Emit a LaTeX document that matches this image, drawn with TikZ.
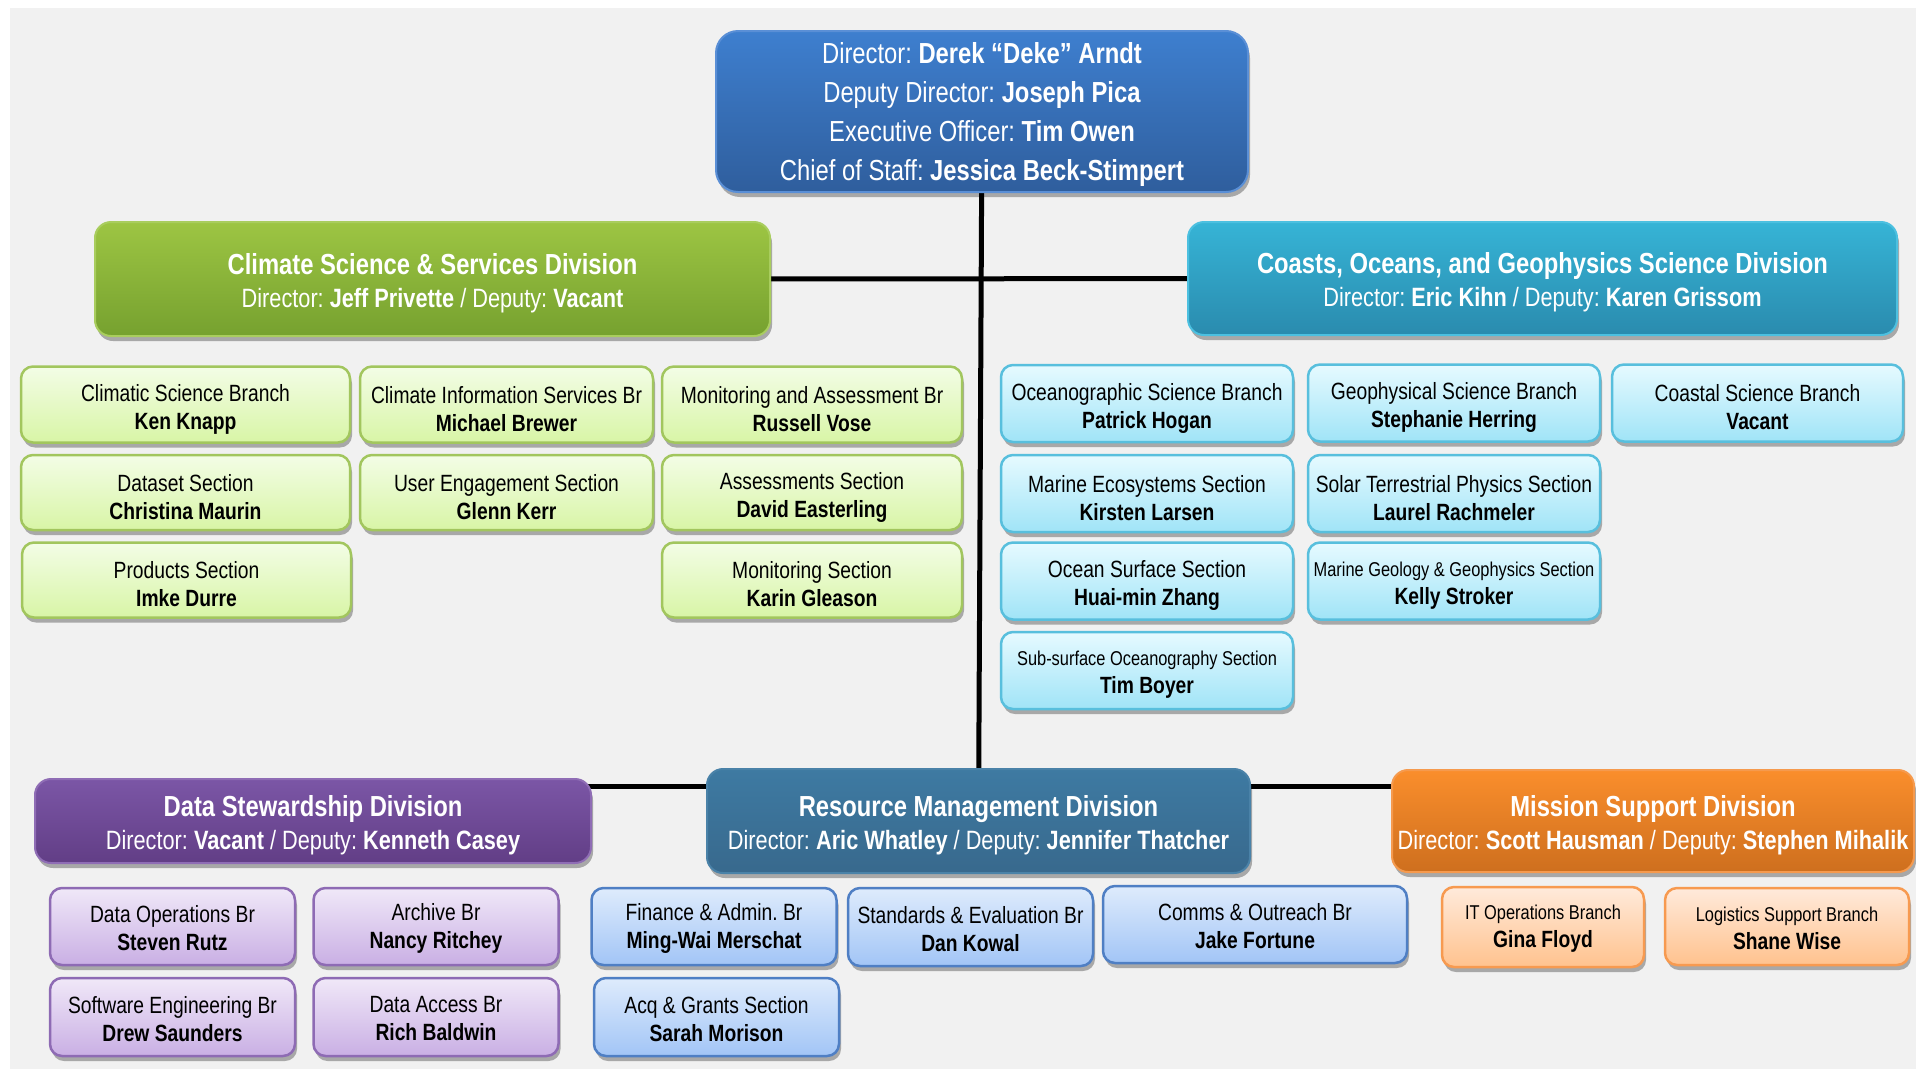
\documentclass[tikz,border=0pt]{standalone}
\usepackage{fontspec}
\setmainfont{Liberation Sans}[FakeStretch=0.82]
\usetikzlibrary{shadows}
\pgfdeclarelayer{back}
\pgfdeclarelayer{lines}
\pgfsetlayers{back,lines,main}
\definecolor{bgc}{HTML}{F1F1F1}
\definecolor{topT}{HTML}{3E7FCF}\definecolor{topB}{HTML}{2F5E9D}\definecolor{topD}{HTML}{5A8FD6}
\definecolor{grT}{HTML}{9DC543}\definecolor{grB}{HTML}{76A12F}\definecolor{grD}{HTML}{A9CD5E}
\definecolor{teT}{HTML}{36B4D6}\definecolor{teB}{HTML}{2A8BAE}\definecolor{teD}{HTML}{4CC0E0}
\definecolor{puT}{HTML}{7B56A6}\definecolor{puB}{HTML}{623E86}\definecolor{puD}{HTML}{8F6DB5}
\definecolor{rmT}{HTML}{3E7AA2}\definecolor{rmB}{HTML}{38698D}\definecolor{rmD}{HTML}{4A82A8}
\definecolor{orT}{HTML}{FA8E2C}\definecolor{orB}{HTML}{CE6F1E}\definecolor{orD}{HTML}{F59A4E}
\definecolor{lgT}{HTML}{F3FDE6}\definecolor{lgB}{HTML}{D8F5A6}\definecolor{lgD}{HTML}{A2C65E}
\definecolor{lcT}{HTML}{E6FAFF}\definecolor{lcB}{HTML}{A0E4F7}\definecolor{lcD}{HTML}{58BFDD}
\definecolor{lpT}{HTML}{F0E8F8}\definecolor{lpB}{HTML}{C9AFE4}\definecolor{lpD}{HTML}{8E6BB4}
\definecolor{lbT}{HTML}{DEEBFC}\definecolor{lbB}{HTML}{A2C5F6}\definecolor{lbD}{HTML}{4F7FC4}
\definecolor{loT}{HTML}{FFEADB}\definecolor{loB}{HTML}{FFC28E}\definecolor{loD}{HTML}{F79A50}
\tikzset{
  shad/.style={drop shadow={shadow xshift=2pt, shadow yshift=-5pt, opacity=0.3, fill=black}},
  sub/.style={shad, rounded corners=12pt, line width=2.5pt, inner sep=0pt},
  div/.style={shad, rounded corners=16pt, line width=2pt, inner sep=0pt},
  topbox/.style={shad, rounded corners=22pt, line width=2pt, inner sep=0pt,
    top color=topT, bottom color=topB, draw=topD},
  gsub/.style={sub, top color=lgT, bottom color=lgB, draw=lgD},
  csub/.style={sub, top color=lcT, bottom color=lcB, draw=lcD},
  psub/.style={sub, top color=lpT, bottom color=lpB, draw=lpD},
  bsub/.style={sub, top color=lbT, bottom color=lbB, draw=lbD},
  osub/.style={sub, top color=loT, bottom color=loB, draw=loD},
  subtxt/.style={align=center, inner sep=0pt, text=black, yshift=-4.5pt,
    font=\fontsize{23.5}{28}\selectfont\frenchspacing},
  lowtxt/.style={subtxt, yshift=2.5pt},
  divtxt/.style={align=center, inner sep=0pt, text=white, yshift=-4pt,
    font=\fontsize{26.5}{33}\selectfont\frenchspacing},
  toptxt/.style={align=center, inner sep=0pt, text=white, yshift=-2.5pt,
    font=\fontsize{29}{39}\selectfont\frenchspacing},
  conn/.style={line width=5pt, black},
}
\newcommand\ttl[1]{{\fontsize{29}{33}\selectfont\bfseries #1}}
\newcommand\sml[1]{{\fontsize{20}{28}\selectfont #1}}
% box style, text style, name, x, y, width, height, text
\newcommand\ob[8]{%
  \node[#1, minimum width=#6pt, minimum height=#7pt] (#3) at (#4,#5) {};
  \node[#2] (#3-t) at (#3.center) {#8};}
\begin{document}
\begin{tikzpicture}[x=1pt,y=-1pt]
\begin{pgfonlayer}{back}
\fill[white] (0,0) rectangle (1916,1069);
\fill[bgc] (10,8) rectangle (1916,1069);
\end{pgfonlayer}
\useasboundingbox (0,0) rectangle (1916,1069);

% top
\ob{topbox}{toptxt}{dir}{982}{111.5}{532}{161}
  {Director: \textbf{Derek “Deke” Arndt}\\Deputy Director: \textbf{Joseph Pica}\\Executive Officer: \textbf{Tim Owen}\\Chief of Staff: \textbf{Jessica Beck-Stimpert}}

% divisions
\ob{div, top color=grT, bottom color=grB, draw=grD}{divtxt}{clim}{432.5}{279}{675}{114}
  {\ttl{Climate Science \& Services Division}\\Director: \textbf{Jeff Privette} / Deputy: \textbf{Vacant}}
\ob{div, top color=teT, bottom color=teB, draw=teD}{divtxt}{coast}{1542.5}{278.5}{709}{113}
  {\ttl{Coasts, Oceans, and Geophysics Science Division}\\Director: \textbf{Eric Kihn} / Deputy: \textbf{Karen Grissom}}
\ob{div, top color=puT, bottom color=puB, draw=puD}{divtxt}{ds}{313}{821}{556}{84}
  {\ttl{Data Stewardship Division}\\Director: \textbf{Vacant} / Deputy: \textbf{Kenneth Casey}}
\ob{div, top color=rmT, bottom color=rmB, draw=rmD}{divtxt}{rm}{978.5}{821}{543}{104}
  {\ttl{Resource Management Division}\\Director: \textbf{Aric Whatley} / Deputy: \textbf{Jennifer Thatcher}}
\ob{div, top color=orT, bottom color=orB, draw=orD}{divtxt}{ms}{1653}{821}{522}{102}
  {\ttl{Mission Support Division}\\Director: \textbf{Scott Hausman} / Deputy: \textbf{Stephen Mihalik}}

% climate subs
\ob{gsub}{subtxt}{c11}{185.5}{404.5}{329}{76}{Climatic Science Branch\\\textbf{Ken Knapp}}
\ob{gsub}{subtxt}{c12}{506.5}{404.5}{293}{76}{Climate Information Services Br\\\textbf{Michael Brewer}}
\ob{gsub}{subtxt}{c13}{812}{404.5}{300}{76}{Monitoring and Assessment Br\\\textbf{Russell Vose}}
\ob{gsub}{subtxt}{c21}{185.5}{492.5}{329}{75}{Dataset Section\\\textbf{Christina Maurin}}
\ob{gsub}{subtxt}{c22}{506.5}{492.5}{293}{75}{User Engagement Section\\\textbf{Glenn Kerr}}
\ob{gsub}{subtxt}{c23}{812}{492.5}{300}{75}{Assessments Section\\\textbf{David Easterling}}
\ob{gsub}{subtxt}{c31}{186.5}{580}{329}{75}{Products Section\\\textbf{Imke Durre}}
\ob{gsub}{subtxt}{c33}{812}{580}{300}{75}{Monitoring Section\\\textbf{Karin Gleason}}

% coasts subs
\ob{csub}{subtxt}{o11}{1147}{403.5}{292}{77}{Oceanographic Science Branch\\\textbf{Patrick Hogan}}
\ob{csub}{subtxt}{o12}{1454}{403}{292}{77}{Geophysical Science Branch\\\textbf{Stephanie Herring}}
\ob{csub}{subtxt}{o13}{1757.5}{403}{291}{77}{Coastal Science Branch\\\textbf{Vacant}}
\ob{csub}{subtxt}{o21}{1147}{493.5}{292}{77}{Marine Ecosystems Section\\\textbf{Kirsten Larsen}}
\ob{csub}{subtxt}{o22}{1454}{493.5}{292}{77}{Solar Terrestrial Physics Section\\\textbf{Laurel Rachmeler}}
\ob{csub}{subtxt}{o31}{1147}{581}{292}{77}{Ocean Surface Section\\\textbf{Huai-min Zhang}}
\ob{csub}{subtxt}{o32}{1454}{581}{292}{77}{\sml{Marine Geology \& Geophysics Section}\\\textbf{Kelly Stroker}}
\ob{csub}{subtxt}{o41}{1147}{670.5}{292}{77}{\sml{Sub-surface Oceanography Section}\\\textbf{Tim Boyer}}

% data stewardship subs
\ob{psub}{lowtxt}{d11}{172.5}{926.5}{245}{77}{Data Operations Br\\\textbf{Steven Rutz}}
\ob{psub}{lowtxt}{d12}{436}{926.5}{245}{77}{Archive Br\\\textbf{Nancy Ritchey}}
\ob{psub}{lowtxt}{d21}{172.5}{1017}{245}{78}{Software Engineering Br\\\textbf{Drew Saunders}}
\ob{psub}{lowtxt}{d22}{436}{1017}{245}{78}{Data Access Br\\\textbf{Rich Baldwin}}

% resource management subs
\ob{bsub}{lowtxt}{r11}{714}{926.5}{245}{77}{Finance \& Admin. Br\\\textbf{Ming-Wai Merschat}}
\ob{bsub}{lowtxt}{r12}{970.5}{927}{245}{78}{Standards \& Evaluation Br\\\textbf{Dan Kowal}}
\ob{bsub}{lowtxt}{r13}{1255}{924.5}{304}{77}{Comms \& Outreach Br\\\textbf{Jake Fortune}}
\ob{bsub}{lowtxt}{r21}{716.5}{1017}{245}{78}{Acq \& Grants Section\\\textbf{Sarah Morison}}

% mission support subs
\ob{osub}{lowtxt}{m11}{1543}{927}{202}{80}{\sml{IT Operations Branch}\\\textbf{Gina Floyd}}
\ob{osub}{lowtxt}{m12}{1787}{926.5}{244}{77}{\sml{Logistics Support Branch}\\\textbf{Shane Wise}}

% connectors
\begin{pgfonlayer}{lines}
\coordinate (hl) at (0,786);
\draw[conn] (dir) -- (rm);
\draw[conn] (clim) -- (coast);
\draw[conn] (ds.center |- hl) -- (rm.center |- hl);
\draw[conn] (rm.center |- hl) -- (ms.center |- hl);
\end{pgfonlayer}
\end{tikzpicture}
\end{document}
